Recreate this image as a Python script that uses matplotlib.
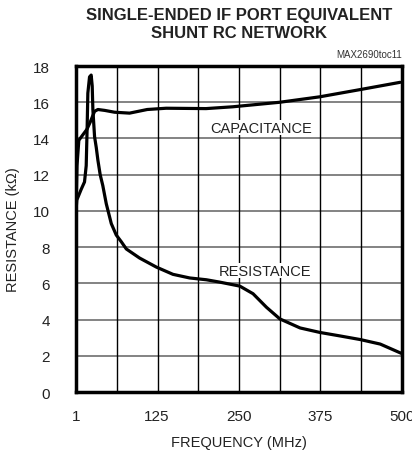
import matplotlib
matplotlib.use('Agg')
import matplotlib.pyplot as plt
import numpy as np

plt.rcParams['font.family'] = ['Liberation Sans', 'DejaVu Sans']

# capacitance curve
cap_freq = [1, 2.5, 5.3, 11.4, 17.6, 22.7, 29.4, 34.5, 45, 60, 83, 110, 139, 200, 241, 313, 374, 436, 497]
cap_val = [10.0, 12.5, 13.9, 14.2, 14.5, 14.9, 15.5, 15.6, 15.55, 15.45, 15.4, 15.6, 15.67, 15.65, 15.75, 16.0, 16.3, 16.7, 17.1]

# resistance curve
res_freq = [1, 2.2, 9, 14, 16.6, 18.1, 19.1, 21.7, 24.2, 25.8, 26.8, 29.4, 32, 34.5, 38, 42, 47.3, 55,
            62.6, 70.3, 78, 98.3, 124, 149.4, 175, 200.6, 221, 251.7, 272, 292.6, 313, 344, 374.6,
            405, 436, 466.7, 499.5]
res_val = [10.0, 10.6, 11.2, 11.6, 12.5, 14.7, 16.5, 17.4, 17.5, 16.9, 15.6, 14.1, 13.5, 12.8, 12.0, 11.4,
           10.4, 9.3, 8.67, 8.3, 7.9, 7.4, 6.9, 6.5, 6.3, 6.2, 6.07, 5.85, 5.43, 4.68, 4.04, 3.54, 3.29,
           3.1, 2.9, 2.65, 2.13]

xticks = [1, 125, 250, 375, 500]
yticks = np.arange(0, 19, 2)

fig = plt.figure(figsize=(4.12, 4.56), dpi=100)
ax = fig.add_axes([0.1845, 0.138, 0.7912, 0.715])

# grid: gray horizontal, black vertical
for y in yticks[1:-1]:
    ax.axhline(y, color='#7a7a7a', lw=1.3, zorder=1)
for x in np.linspace(1, 500, 9)[1:-1]:
    ax.axvline(x, color='black', lw=1.0, zorder=1)

ax.plot(cap_freq, cap_val, color='black', lw=2.3, solid_capstyle='round', zorder=3)
ax.plot(res_freq, res_val, color='black', lw=2.3, solid_capstyle='round', zorder=3)

ax.text(207, 14.6, 'CAPACITANCE', fontsize=10.5, va='center', ha='left',
        color='#222222', bbox=dict(facecolor='white', edgecolor='none', pad=0.5), zorder=2)
ax.text(219, 6.7, 'RESISTANCE', fontsize=10.5, va='center', ha='left',
        color='#222222', bbox=dict(facecolor='white', edgecolor='none', pad=0.5), zorder=2)

ax.set_xlim(1, 500)
ax.set_ylim(0, 18)
ax.set_xticks(xticks)
ax.set_yticks(yticks)
ax.tick_params(length=0, labelsize=11, colors='#222222')
ax.tick_params(axis='x', pad=12)
ax.tick_params(axis='y', pad=19)
for s in ax.spines.values():
    s.set_linewidth(2.5)
    s.set_zorder(4)

ax.set_xlabel('FREQUENCY (MHz)', fontsize=10.5, color='#222222', labelpad=9)
ax.set_ylabel('RESISTANCE (k\u03a9)', fontsize=10.5, color='#222222', labelpad=9)

fig.text(0.58, 0.982, 'SINGLE-ENDED IF PORT EQUIVALENT\nSHUNT RC NETWORK', ha='center', va='top',
         fontsize=12, fontweight='bold', linespacing=1.2, color='#222222')
fig.text(0.975, 0.868, 'MAX2690toc11', ha='right', va='bottom', fontsize=7, color='#333333')

fig.savefig('out.png', dpi=100)
